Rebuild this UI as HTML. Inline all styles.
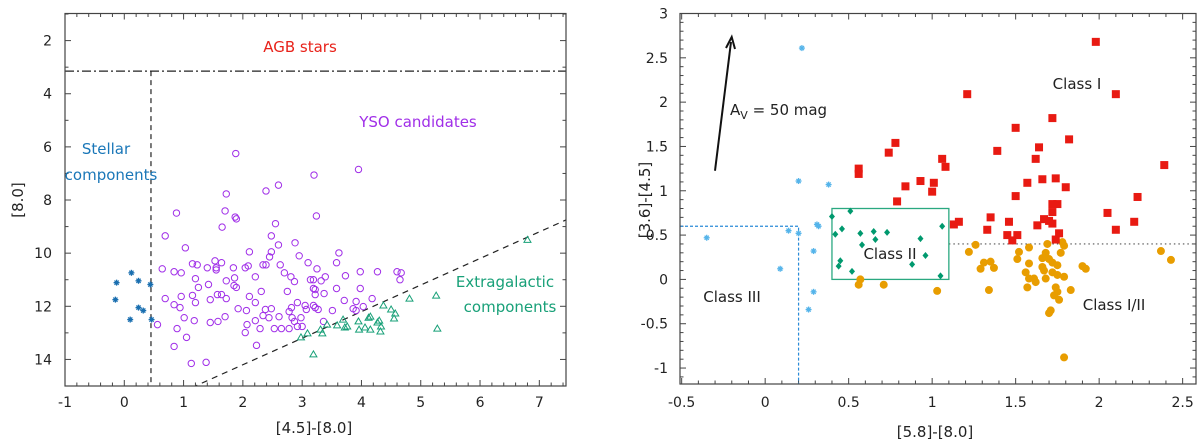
<!DOCTYPE html>
<html><head><meta charset="utf-8"><style>
html,body{margin:0;padding:0;background:#fff;}
svg{display:block;font-family:"DejaVu Sans","Liberation Sans",sans-serif;}
</style></head><body>
<svg id="fig" width="1200" height="443" viewBox="0 0 1200 443" xmlns="http://www.w3.org/2000/svg">
<g id="L"></g>
<g id="R"></g>
</svg>
<script>
// ---------- LEFT CHART DATA ----------
const leftYsoX=[1.88,3.95,3.20,2.39,2.60,1.72,1.70,1.87,1.89,0.88,3.24,2.55,1.65,0.69,2.48,2.60,2.88,1.03,2.11,2.48,2.95,3.62,2.45,1.53,1.64,1.15,1.23,0.64,1.40,1.55,1.84,2.04,2.09,2.34,2.39,2.63,3.10,3.25,3.58,0.84,0.96,1.55,2.21,2.70,2.81,3.14,3.19,3.32,3.39,3.73,3.98,4.27,4.60,4.67,4.65,1.20,1.72,1.86,2.87,1.42,1.25,1.85,1.89,3.19,3.22,3.58,3.98,2.75,2.31,3.22,3.37,1.15,1.57,1.64,2.11,0.69,0.96,1.45,1.72,1.20,2.21,2.92,3.71,3.91,4.18,0.84,0.94,1.92,2.06,2.38,2.48,2.78,2.82,3.05,3.07,3.19,3.22,3.27,3.51,3.86,3.91,4.03,1.01,1.18,1.45,1.58,1.70,2.07,2.21,2.34,2.44,2.61,2.83,2.87,2.98,3.00,2.92,3.36,0.56,0.89,2.04,2.29,2.53,2.65,2.78,1.05,0.84,2.23,1.13,1.38];
const leftYsoY=[6.25,6.85,7.06,7.66,7.44,7.77,8.41,8.64,8.71,8.49,8.60,8.89,9.02,9.35,9.35,9.69,9.61,9.80,9.95,9.95,10.10,9.99,10.14,10.29,10.36,10.40,10.44,10.59,10.55,10.55,10.55,10.55,10.48,10.44,10.44,10.44,10.36,10.59,10.36,10.70,10.74,10.63,10.89,10.74,10.89,11.0,11.0,11.04,10.89,10.85,10.70,10.70,10.70,10.74,11.0,10.96,11.04,10.93,11.07,11.18,11.29,11.22,11.29,11.33,11.37,11.33,11.33,11.44,11.44,11.56,11.52,11.59,11.56,11.56,11.63,11.71,11.63,11.75,11.71,11.86,11.86,11.86,11.78,11.82,11.71,11.94,12.05,12.09,12.16,12.12,12.09,12.20,12.05,11.97,12.12,11.97,12.05,12.12,12.16,12.09,12.16,12.01,12.43,12.54,12.61,12.57,12.39,12.69,12.54,12.35,12.43,12.39,12.43,12.57,12.43,12.76,12.76,12.57,12.69,12.84,12.99,12.84,12.84,12.84,12.84,13.17,13.51,13.47,14.15,14.11];
const leftStarX=[-0.13,0.12,0.24,0.44,-0.15,0.24,0.32,0.10,0.46];
const leftStarY=[11.11,10.74,11.04,11.18,11.75,12.05,12.16,12.50,12.50];
const leftTriX=[6.80,4.81,5.26,5.28,4.37,4.50,4.57,4.55,4.15,4.12,3.69,3.95,4.30,4.27,3.42,3.59,3.72,3.76,4.06,4.33,3.31,3.96,4.15,4.32,3.34,3.09,2.98,3.19];
const leftTriY=[9.50,11.71,11.60,12.84,11.97,12.12,12.27,12.46,12.39,12.43,12.50,12.57,12.54,12.61,12.69,12.72,12.80,12.76,12.80,12.76,12.88,12.88,12.88,12.95,13.02,13.02,13.17,13.81];
const leftXTicks=[-1,0,1,2,3,4,5,6,7];
const leftYTicks=[2,4,6,8,10,12,14];

// ---------- RIGHT CHART DATA ----------
const rClassIX=[1.98,1.21,2.10,1.72,1.50,1.82,1.64,1.39,0.78,0.74,1.06,1.08,0.56,0.56,1.62,2.39,0.93,1.01,0.84,1.00,1.66,1.74,1.57,1.80,1.50,0.79,2.23,1.72,1.75,1.72,2.05,1.35,1.16,1.13,1.46,1.67,1.70,1.72,1.63,2.21,2.10,1.33,1.45,1.51,1.48,1.76,1.74];
const rClassIY=[2.68,2.09,2.09,1.82,1.71,1.58,1.49,1.45,1.54,1.43,1.36,1.27,1.25,1.19,1.36,1.29,1.11,1.09,1.05,0.99,1.13,1.14,1.09,1.04,0.94,0.88,0.93,0.85,0.85,0.76,0.75,0.70,0.65,0.62,0.65,0.68,0.66,0.63,0.61,0.65,0.56,0.56,0.50,0.50,0.44,0.52,0.45];
const rFlatX=[1.26,1.22,1.69,1.78,1.79,1.58,1.52,1.68,1.77,1.51,1.66,1.70,2.37,2.43,1.31,1.35,1.29,1.37,1.58,1.72,1.75,1.66,1.90,1.92,1.56,1.67,1.72,1.75,1.58,1.61,1.68,1.79,1.62,0.57,0.56,0.71,1.03,1.34,1.57,1.74,1.75,1.83,1.73,1.76,1.71,1.70,1.79];
const rFlatY=[0.39,0.31,0.40,0.42,0.38,0.36,0.31,0.30,0.30,0.23,0.24,0.23,0.32,0.22,0.19,0.20,0.12,0.13,0.18,0.19,0.16,0.14,0.15,0.12,0.08,0.10,0.08,0.05,0.01,0.01,0.01,0.03,-0.03,0.00,-0.06,-0.06,-0.13,-0.12,-0.09,-0.09,-0.14,-0.12,-0.18,-0.23,-0.35,-0.38,-0.88];
const rClassIIX=[0.51,0.40,0.46,0.42,0.57,0.65,0.73,0.66,0.58,0.93,0.96,1.06,0.45,0.44,0.88,0.52,1.05];
const rClassIIY=[0.77,0.71,0.57,0.51,0.52,0.54,0.53,0.45,0.39,0.46,0.27,0.60,0.21,0.15,0.17,0.09,0.04];
const rStarX=[0.22,0.20,0.38,0.31,0.32,0.14,0.20,-0.35,0.29,0.09,0.29,0.26];
const rStarY=[2.61,1.11,1.07,0.62,0.60,0.55,0.52,0.47,0.32,0.12,-0.14,-0.34];
const rightXTicks=[-0.5,0,0.5,1,1.5,2,2.5];
const rightYTicks=[-1,-0.5,0,0.5,1,1.5,2,2.5,3];

const NS="http://www.w3.org/2000/svg";
function mk(parent,tag,attrs){const e=document.createElementNS(NS,tag);for(const k in attrs)e.setAttribute(k,attrs[k]);parent.appendChild(e);return e;}

// ---------- LEFT ----------
const L=document.getElementById('L');
const LX0=65,LX1=566,LY0=13.5,LY1=386;
const lxMin=-1,lxMax=7.45,lyMin=0.98,lyMax=15;
const lx=v=>LX0+(v-lxMin)/(lxMax-lxMin)*(LX1-LX0);
const ly=v=>LY0+(v-lyMin)/(lyMax-lyMin)*(LY1-LY0);
// clip
const defs=mk(document.getElementById('fig'),'defs',{});
const cpL=mk(defs,'clipPath',{id:'cpL'});mk(cpL,'rect',{x:LX0,y:LY0,width:LX1-LX0,height:LY1-LY0});
const cpR=mk(defs,'clipPath',{id:'cpR'});
// ticks
for(let v=-1;v<=7.41;v+=0.2){const x=lx(v);const maj=Math.abs(v-Math.round(v))<1e-6;const len=maj?6:3.5;
 mk(L,'line',{x1:x,y1:LY1,x2:x,y2:LY1-len,stroke:'#444','stroke-width':1});mk(L,'line',{x1:x,y1:LY0,x2:x,y2:LY0+len,stroke:'#444','stroke-width':1});}
for(let v=1;v<=15;v+=1){const y=ly(v);const maj=v%2===0;const len=maj?6:3.5;
 mk(L,'line',{x1:LX0,y1:y,x2:LX0+len,y2:y,stroke:'#444','stroke-width':1});mk(L,'line',{x1:LX1,y1:y,x2:LX1-len,y2:y,stroke:'#444','stroke-width':1});}
leftXTicks.forEach(v=>{const t=mk(L,'text',{x:lx(v),y:407,'text-anchor':'middle','font-size':14,fill:'#222'});t.textContent=v;
 
 });
leftYTicks.forEach(v=>{const t=mk(L,'text',{x:LX0-13,y:ly(v)+5,'text-anchor':'end','font-size':14,fill:'#222'});t.textContent=v;
 
 });
// lines
const gl=mk(L,'g',{'clip-path':'url(#cpL)'});
let e;
e=mk(gl,'line',{x1:LX0,y1:ly(3.15),x2:LX1,y2:ly(3.15),stroke:'#222','stroke-width':1.2,'stroke-dasharray':'9,3,2,3'});


e=mk(gl,'line',{x1:lx(0.45),y1:ly(3.15),x2:lx(0.45),y2:LY1,stroke:'#222','stroke-width':1.2,'stroke-dasharray':'5,4'});


e=mk(gl,'line',{x1:lx(0.8),y1:ly(15.4),x2:lx(7.5),y2:ly(8.7),stroke:'#222','stroke-width':1.2,'stroke-dasharray':'6,5'});


// points
leftYsoX.forEach((v,i)=>{const c=mk(gl,'circle',{cx:lx(v),cy:ly(leftYsoY[i]),r:3.2,fill:'none',stroke:'#a02ee8','stroke-width':1});
 
 });
leftTriX.forEach((v,i)=>{const x=lx(v),y=ly(leftTriY[i]);const p=mk(gl,'polygon',{points:`${x},${y-3.5} ${x-3.5},${y+2.5} ${x+3.5},${y+2.5}`,fill:'none',stroke:'#18a078','stroke-width':1});
 
 });
function star(g,x,y,s,col,name){const gg=mk(g,'g',{stroke:col,'stroke-width':1.3});
 
 
 mk(gg,'line',{x1:x-s,y1:y,x2:x+s,y2:y});mk(gg,'line',{x1:x,y1:y-s,x2:x,y2:y+s});
 mk(gg,'line',{x1:x-s*0.7,y1:y-s*0.7,x2:x+s*0.7,y2:y+s*0.7});mk(gg,'line',{x1:x-s*0.7,y1:y+s*0.7,x2:x+s*0.7,y2:y-s*0.7});}
leftStarX.forEach((v,i)=>star(gl,lx(v),ly(leftStarY[i]),3,'#1a6fb0','stellar-point'));
// frame
e=mk(L,'rect',{x:LX0,y:LY0,width:LX1-LX0,height:LY1-LY0,fill:'none',stroke:'#444','stroke-width':1.2});


function txt(g,x,y,s,col,size,name,anchor){const t=mk(g,'text',{x:x,y:y,'text-anchor':anchor||'middle','font-size':size,fill:col});t.textContent=s;
 
 return t;}
txt(L,300,52,'AGB stars','#e8221a',15,'agb-label');
txt(L,418,127,'YSO candidates','#a02ee8',15,'yso-label');
txt(L,106,154,'Stellar','#1a77b8',15,'stellar-label');
txt(L,111,180,'components','#1a77b8',15,'stellar-label-2');
txt(L,505,287,'Extragalactic','#18a078',15,'extragalactic-label');
txt(L,510,312,'components','#18a078',15,'extragalactic-label-2');
txt(L,314,433,'[4.5]-[8.0]','#222',15,'x-axis-title');
let yt=txt(L,0,0,'[8.0]','#222',15,'y-axis-title');yt.setAttribute('transform','translate(23,200) rotate(-90)');

// ---------- RIGHT ----------
const R=document.getElementById('R');
const RX0=680,RX1=1196,RY0=13.5,RY1=384;
mk(cpR,'rect',{x:RX0,y:RY0,width:RX1-RX0,height:RY1-RY0});
const rxMin=-0.51,rxMax=2.58,ryMin=-1.18,ryMax=3;
const rx=v=>RX0+(v-rxMin)/(rxMax-rxMin)*(RX1-RX0);
const ry=v=>RY1-(v-ryMin)/(ryMax-ryMin)*(RY1-RY0);
for(let k=-5;k<=25;k++){const v=k/10;const x=rx(v);if(x<RX0||x>RX1)continue;const len=(k%5===0)?6:3.5;
 mk(R,'line',{x1:x,y1:RY1,x2:x,y2:RY1-len,stroke:'#444'});mk(R,'line',{x1:x,y1:RY0,x2:x,y2:RY0+len,stroke:'#444'});}
for(let k=-11;k<=30;k++){const v=k/10;const y=ry(v);const len=(k%5===0)?6:3.5;
 mk(R,'line',{x1:RX0,y1:y,x2:RX0+len,y2:y,stroke:'#444'});mk(R,'line',{x1:RX1,y1:y,x2:RX1-len,y2:y,stroke:'#444'});}
rightXTicks.forEach(v=>{const t=mk(R,'text',{x:rx(v),y:407,'text-anchor':'middle','font-size':14,fill:'#222'});t.textContent=v;
 
 });
rightYTicks.forEach(v=>{const t=mk(R,'text',{x:RX0-12,y:ry(v)+5,'text-anchor':'end','font-size':14,fill:'#222'});t.textContent=v;
 
 });
const gr=mk(R,'g',{'clip-path':'url(#cpR)'});
e=mk(gr,'polyline',{points:`${RX0},${ry(0.6)} ${rx(0.2)},${ry(0.6)} ${rx(0.2)},${RY1}`,fill:'none',stroke:'#2a8ad8','stroke-width':1.2,'stroke-dasharray':'3,2'});


e=mk(gr,'line',{x1:rx(1.1),y1:ry(0.4),x2:RX1,y2:ry(0.4),stroke:'#555','stroke-width':1.2,'stroke-dasharray':'1.5,3'});


e=mk(gr,'rect',{x:rx(0.4),y:ry(0.8),width:rx(1.1)-rx(0.4),height:ry(0)-ry(0.8),fill:'none',stroke:'#2aa880','stroke-width':1.3});


rFlatX.forEach((v,i)=>{const c=mk(gr,'circle',{cx:rx(v),cy:ry(rFlatY[i]),r:4,fill:'#e89d00'});
 
 });
rClassIX.forEach((v,i)=>{const r=mk(gr,'rect',{x:rx(v)-4,y:ry(rClassIY[i])-4,width:8,height:8,fill:'#e81a12'});
 
 });
rClassIIX.forEach((v,i)=>{const x=rx(v),y=ry(rClassIIY[i]);const p=mk(gr,'polygon',{points:`${x},${y-3.5} ${x+3},${y} ${x},${y+3.5} ${x-3},${y}`,fill:'#00996e'});
 
 });
rStarX.forEach((v,i)=>star(gr,rx(v),ry(rStarY[i]),3,'#55b4ea','class-iii-point'));
// arrow
e=mk(R,'line',{x1:715,y1:170.7,x2:731,y2:42,stroke:'#111','stroke-width':2});


mk(R,'polyline',{points:'726,48 731.7,37 735,49',fill:'none',stroke:'#111','stroke-width':2});
e=mk(R,'rect',{x:RX0,y:RY0,width:RX1-RX0,height:RY1-RY0,fill:'none',stroke:'#444','stroke-width':1.2});


txt(R,1077,89,'Class I','#222',15,'class-i-label');
let av=txt(R,730,115,'','#222',15,'extinction-label','start');
av.innerHTML='A<tspan font-size="11" dy="4">V</tspan><tspan dy="-4"> = 50 mag</tspan>';
txt(R,890,259,'Class II','#222',15,'class-ii-label');
txt(R,732,302,'Class III','#222',15,'class-iii-label');
txt(R,1114,310,'Class I/II','#222',15,'class-i-ii-label');
txt(R,935,437,'[5.8]-[8.0]','#222',15,'x-axis-title');
yt=txt(R,0,0,'[3.6]-[4.5]','#222',15,'y-axis-title');yt.setAttribute('transform','translate(650,200) rotate(-90)');
</script>
</body></html>
